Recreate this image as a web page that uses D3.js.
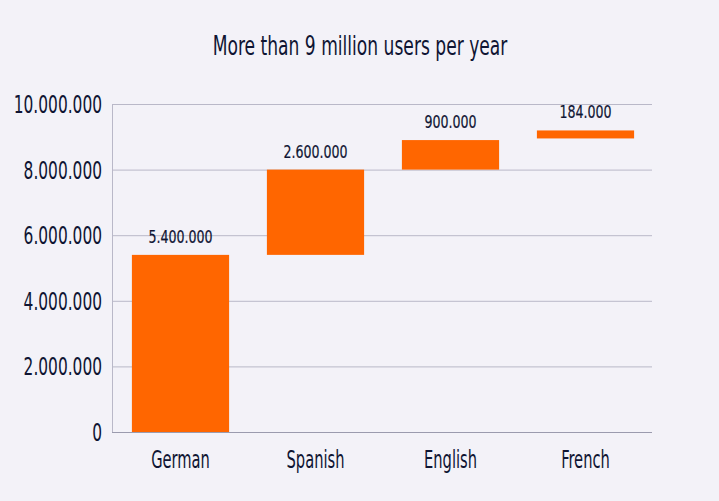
<!DOCTYPE html>
<html><head><meta charset="utf-8">
<script src="https://cdn.jsdelivr.net/npm/d3@7"></script>
<style>
body{margin:0;background:#f3f2f8;}
svg{display:block;}
text{font-family:"DejaVu Sans Condensed","DejaVu Sans",sans-serif;fill:#0f1533;}
</style></head><body>
<svg id="c" width="719" height="501"></svg>
<script>
const categories = ["German","Spanish","English","French"];
const values = [5400000, 2600000, 900000, 184000];
const bases = [0, 5400000, 8000000, 8950000];
const valueLabels = ["5.400.000","2.600.000","900.000","184.000"];
const tickValues = [0, 2000000, 4000000, 6000000, 8000000, 10000000];
const tickLabels = ["0","2.000.000","4.000.000","6.000.000","8.000.000","10.000.000"];
const title = "More than 9 million users per year";

const svg = d3.select("#c");
svg.append("rect").attr("width",719).attr("height",501).attr("fill","#f3f2f8");
const m = {l:112, r:652, t:104, b:432};
const x = d3.scaleBand().domain(categories).range([m.l, m.r]).paddingInner(0.28).paddingOuter(0.14);
const y = d3.scaleLinear().domain([0, 10000000]).range([m.b, m.t]);

// condensed text helper
function txt(parent, px, py, s, size, anchor, sx){
  return parent.append("text")
    .attr("transform",`translate(${px},${py}) scale(${sx},1)`)
    .attr("text-anchor",anchor).attr("font-size",size).text(s);
}

txt(svg, 360, 55, title, 27, "middle", 0.705);

// grid + y axis
const g = svg.append("g").attr("transform",`translate(${m.l},0)`);
g.call(d3.axisLeft(y).tickValues(tickValues).tickSize(-(m.r-m.l)).tickFormat(""))
 .call(a=>a.select(".domain").attr("stroke","#b9b8c8"))
 .call(a=>a.selectAll(".tick line").attr("stroke","#b9b8c8"));
tickValues.forEach((v,i)=>txt(svg, 102, y(v)+9, tickLabels[i], 24.5, "end", 0.7));

// bars
categories.forEach((c,i)=>{
  const top = y(bases[i]+values[i]);
  const bot = y(bases[i]);
  const h = Math.max(bot-top, 8);
  svg.append("rect").attr("x",x(c)+1).attr("width",x.bandwidth())
    .attr("y",bot-h).attr("height",h).attr("fill","#ff6600");
  txt(svg, x(c)+1+x.bandwidth()/2, bot-h-12, valueLabels[i], 18, "middle", 0.78)
    .attr("stroke","#0f1533").attr("stroke-width",0.2);
});

// x axis
svg.append("line").attr("x1",m.l).attr("x2",m.r).attr("y1",m.b+0.5).attr("y2",m.b+0.5).attr("stroke","#9b9bae");
categories.forEach(c=>txt(svg, x(c)+1+x.bandwidth()/2, 468, c, 24, "middle", 0.68));
</script></body></html>
